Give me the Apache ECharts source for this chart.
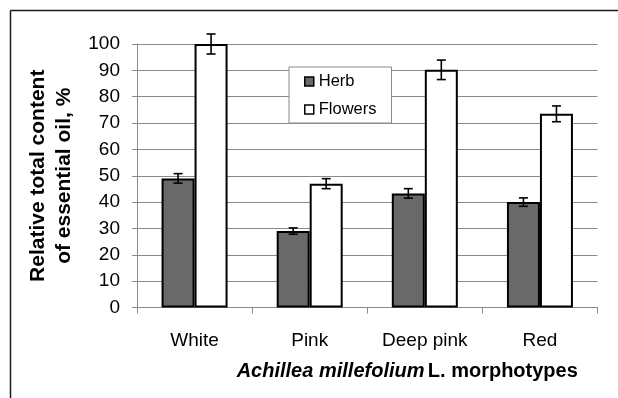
<!DOCTYPE html>
<html>
<head>
<meta charset="utf-8">
<script src="https://cdn.jsdelivr.net/npm/echarts@6/dist/echarts.min.js"></script>
<style>html,body{margin:0;padding:0;background:#fff;overflow:hidden}#c{width:618px;height:398px}</style>
</head>
<body>
<div id="c"></div>
<script>
const categories = ['White', 'Pink', 'Deep pink', 'Red'];
const herb = [49, 29, 43.3, 40];
const herbErr = [1.8, 1.2, 1.8, 1.6];
const flowers = [100, 47, 90.2, 73.5];
const flowersErr = [3.8, 1.9, 3.7, 3.0];
const yTicks = [0, 10, 20, 30, 40, 50, 60, 70, 80, 90, 100];

const FONT = '"Liberation Sans", Arial, sans-serif';
const BAR_W = 33;

function errSeries(name, vals, errs, side) {
  return {
    type: 'custom',
    name: name + ' err',
    z: 5,
    silent: true,
    data: vals.map((v, i) => [i, v, errs[i]]),
    renderItem: function (params, api) {
      const i = api.value(0), v = api.value(1), e = api.value(2);
      const c = api.coord([i, v]);
      const x = c[0] + side * BAR_W / 2;
      const top = api.coord([i, v + e])[1];
      const bot = api.coord([i, v - e])[1];
      const cap = 4.5;
      const st = { stroke: '#000', lineWidth: 1.6 };
      return {
        type: 'group',
        children: [
          { type: 'line', shape: { x1: x, y1: top, x2: x, y2: bot }, style: st },
          { type: 'line', shape: { x1: x - cap, y1: top, x2: x + cap, y2: top }, style: st },
          { type: 'line', shape: { x1: x - cap, y1: bot, x2: x + cap, y2: bot }, style: st }
        ]
      };
    }
  };
}

const chart = echarts.init(document.getElementById('c'), null, { renderer: 'canvas' });
chart.setOption({
  animation: false,
  backgroundColor: '#fff',
  textStyle: { fontFamily: FONT },
  graphic: [
    { type: 'line', shape: { x1: 10.5, y1: 10.5, x2: 640, y2: 10.5 }, style: { stroke: '#1a1a1a', lineWidth: 1.5 }, silent: true },
    { type: 'line', shape: { x1: 10.5, y1: 10.5, x2: 10.5, y2: 410 }, style: { stroke: '#1a1a1a', lineWidth: 1.5 }, silent: true }
  ],
  grid: { left: 137, right: 20.5, top: 44, bottom: 90.5 },
  legend: {
    orient: 'vertical',
    left: 289, top: 67,
    padding: [6, 15, 5, 15],
    itemGap: 11,
    itemWidth: 9, itemHeight: 9,
    backgroundColor: '#fff',
    borderColor: '#8a8a8a', borderWidth: 1,
    borderRadius: 0,
    data: [{ name: 'Herb', icon: 'rect' }, { name: 'Flowers', icon: 'rect' }],
    textStyle: { fontFamily: FONT, fontSize: 16.5, color: '#000', lineHeight: 16 },
    itemStyle: { borderColor: '#000', borderWidth: 1.5 }
  },
  xAxis: {
    type: 'category',
    data: categories,
    boundaryGap: true,
    axisLine: { show: true, lineStyle: { color: '#8a8a8a', width: 1 } },
    axisTick: { show: true, length: 6, alignWithLabel: false, lineStyle: { color: '#8a8a8a' } },
    axisLabel: { fontFamily: FONT, fontSize: 19, color: '#000', margin: 24 },
    name: '{i|Achillea millefolium} {b|L. morphotypes}',
    nameLocation: 'middle',
    nameGap: 54,
    nameTextStyle: {
      padding: [0, 0, 0, 80],
      rich: {
        i: { fontFamily: FONT, fontSize: 20, fontWeight: 'bold', fontStyle: 'italic', color: '#000' },
        b: { fontFamily: FONT, fontSize: 20, fontWeight: 'bold', color: '#000' }
      }
    }
  },
  yAxis: {
    type: 'value',
    min: 0, max: 100, interval: 10,
    axisLine: { show: true, lineStyle: { color: '#8a8a8a', width: 1 } },
    axisTick: { show: true, length: 5, lineStyle: { color: '#8a8a8a' } },
    splitLine: { show: true, lineStyle: { color: '#8a8a8a', width: 1 } },
    axisLabel: {
      fontFamily: FONT, fontSize: 19, color: '#000', margin: 17,
      customValues: yTicks
    },
    name: 'Relative total content\nof essential oil, %',
    nameLocation: 'middle',
    nameGap: 56,
    nameRotate: 90,
    nameTextStyle: { fontFamily: FONT, fontSize: 21, fontWeight: 'bold', color: '#000', lineHeight: 26 }
  },
  series: [
    {
      name: 'Herb', type: 'bar', data: herb,
      barWidth: BAR_W, barGap: '0%',
      itemStyle: { color: '#696969', borderColor: '#000', borderWidth: 2 }
    },
    {
      name: 'Flowers', type: 'bar', data: flowers,
      barWidth: BAR_W, barGap: '0%',
      itemStyle: { color: '#fff', borderColor: '#000', borderWidth: 2 }
    },
    errSeries('Herb', herb, herbErr, -1),
    errSeries('Flowers', flowers, flowersErr, 1)
  ]
});
</script>
</body>
</html>
